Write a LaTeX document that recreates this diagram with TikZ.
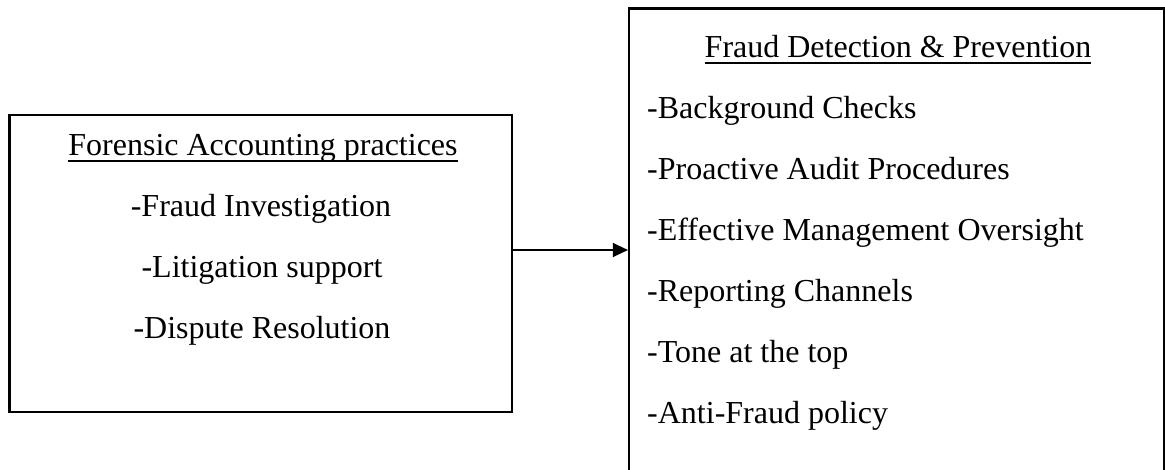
\documentclass[tikz,border=0pt]{standalone}
\usepackage{fontspec}
\setmainfont{Liberation Serif}
\usetikzlibrary{arrows.meta}
\newcommand\myul[1]{\setbox0\hbox{#1}\rlap{\rule[-7pt]{\wd0}{2pt}}\box0}
\tikzset{
  boxnode/.style={draw=black, line width=2.2pt, inner sep=0pt, fill=none},
  txt/.style={font=\fontsize{32}{38}\selectfont, inner sep=0pt, anchor=base},
  itemtxt/.style={txt, anchor=base west},
  conn/.style={line width=1.3pt, -{Triangle[length=15pt,width=14pt]}}
}
\begin{document}
\begin{tikzpicture}[x=1pt,y=-1pt]
\useasboundingbox (0,0) rectangle (1165,469);
% boxes
\node[boxnode, minimum width=502.5pt, minimum height=297pt] (left) at (260.75,263.5) {};
\node[boxnode, minimum width=535pt, minimum height=490pt] (right) at (896.5,253.5) {};
% left texts
\node[txt] (lt) at (263,155) {\myul{Forensic Accounting practices}};
\node[txt] (l1) at (261,216) {-Fraud Investigation};
\node[txt] (l2) at (262,277) {-Litigation support};
\node[txt] (l3) at (262,338) {-Dispute Resolution};
% right texts
\node[txt] (rt) at (898,57) {\myul{Fraud Detection \& Prevention}};
\node[itemtxt] (r1) at (647,118) {-Background Checks};
\node[itemtxt] (r2) at (647,179) {-Proactive Audit Procedures};
\node[itemtxt] (r3) at (647,240) {-Effective Management Oversight};
\node[itemtxt] (r4) at (647,301) {-Reporting Channels};
\node[itemtxt] (r5) at (647,362) {-Tone at the top};
\node[itemtxt] (r6) at (647,423) {-Anti-Fraud policy};
% connector
\draw[conn] (left.east |- 0,250) -- (right.west |- 0,250);
\end{tikzpicture}
\end{document}
